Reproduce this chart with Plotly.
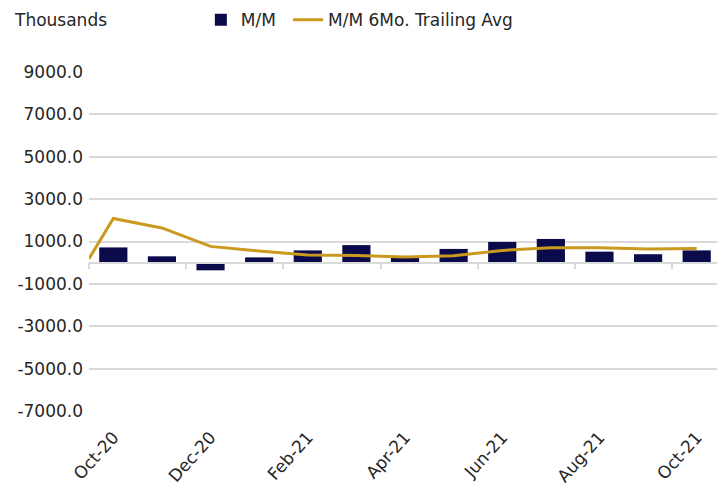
import plotly.graph_objects as go

# ---- data ----
months = ["Oct-20", "Nov-20", "Dec-20", "Jan-21", "Feb-21", "Mar-21", "Apr-21",
          "May-21", "Jun-21", "Jul-21", "Aug-21", "Sep-21", "Oct-21"]
mm_values = [720, 300, -360, 250, 580, 830, 250, 650, 980, 1120, 520, 400, 580]
# trailing average: first value sits at the left edge of the axis (prior period)
trail_start = 190
trail_values = [2090, 1640, 770, 550, 360, 340, 270, 330, 580, 700, 700, 650, 670]
y_ticks = [-7000, -5000, -3000, -1000, 1000, 3000, 5000, 7000, 9000]
y_ticktext = [f"{v:.1f}" for v in y_ticks]

idx = list(range(len(months)))
line_x = [idx[0] - 0.5] + idx
line_y = [trail_start] + trail_values

FONT = "DejaVu Sans"
TXT = "#262626"
BAR = "#0B0B4B"
GOLD = "#C99A1E"
GRID = "#D9D9D9"

fig = go.Figure()
fig.add_trace(go.Bar(x=idx, y=mm_values, name="M/M", marker=dict(color=BAR, line=dict(width=0)),
                     width=0.58, legend="legend"))
fig.add_trace(go.Scatter(x=line_x, y=line_y, name="M/M 6Mo. Trailing Avg", mode="lines",
                         line=dict(color=GOLD, width=3), legend="legend2"))
# axis line with tick marks at y = 0
fig.add_trace(go.Scatter(x=[idx[0] - 0.5, idx[-1] + 0.5], y=[None, None], xaxis="x2",
                         showlegend=False, hoverinfo="skip"))

ymin, ymax = y_ticks[0], y_ticks[-1]
zero_pos = (0 - ymin) / (ymax - ymin)

legend_common = dict(orientation="h", xanchor="left", y=1.153, yanchor="middle",
                     font=dict(size=17, color=TXT), itemwidth=30,
                     bgcolor="rgba(0,0,0,0)")

fig.update_layout(
    width=717, height=483,
    margin=dict(l=81, r=4, t=64, b=80, autoexpand=False),
    paper_bgcolor="white", plot_bgcolor="white",
    font=dict(family=FONT, size=17, color=TXT),
    showlegend=True,
    legend=dict(x=0.177, **legend_common),
    legend2=dict(x=0.315, **legend_common),
    xaxis=dict(range=[-0.5, len(months) - 0.5], tickvals=idx[::2], ticktext=months[::2],
               tickangle=-48, showgrid=False, showline=False, ticks="", zeroline=False,
               automargin=False, ticklabelstandoff=12, tickfont=dict(size=17, color=TXT)),
    xaxis2=dict(overlaying="x", anchor="free", position=zero_pos,
                range=[-0.5, len(months) - 0.5],
                tickvals=[i - 0.5 for i in idx[::2]], showticklabels=False,
                ticks="outside", ticklen=6, tickcolor=GRID, tickwidth=1.5,
                showline=True, linecolor=GRID, linewidth=1.5, showgrid=False, zeroline=False),
    yaxis=dict(range=[ymin, ymax], tickvals=y_ticks, ticktext=y_ticktext,
               showgrid=True, gridcolor=GRID, gridwidth=1.5, zeroline=False,
               showline=False, ticks="", automargin=False, ticklabelstandoff=5,
               tickfont=dict(size=17, color=TXT)),
    bargap=0.42,
    annotations=[dict(text="Thousands", xref="paper", yref="paper", x=-0.122, y=1.153,
                      xanchor="left", yanchor="middle", showarrow=False,
                      font=dict(size=17, color=TXT))],
)

fig.write_html("out.html")
